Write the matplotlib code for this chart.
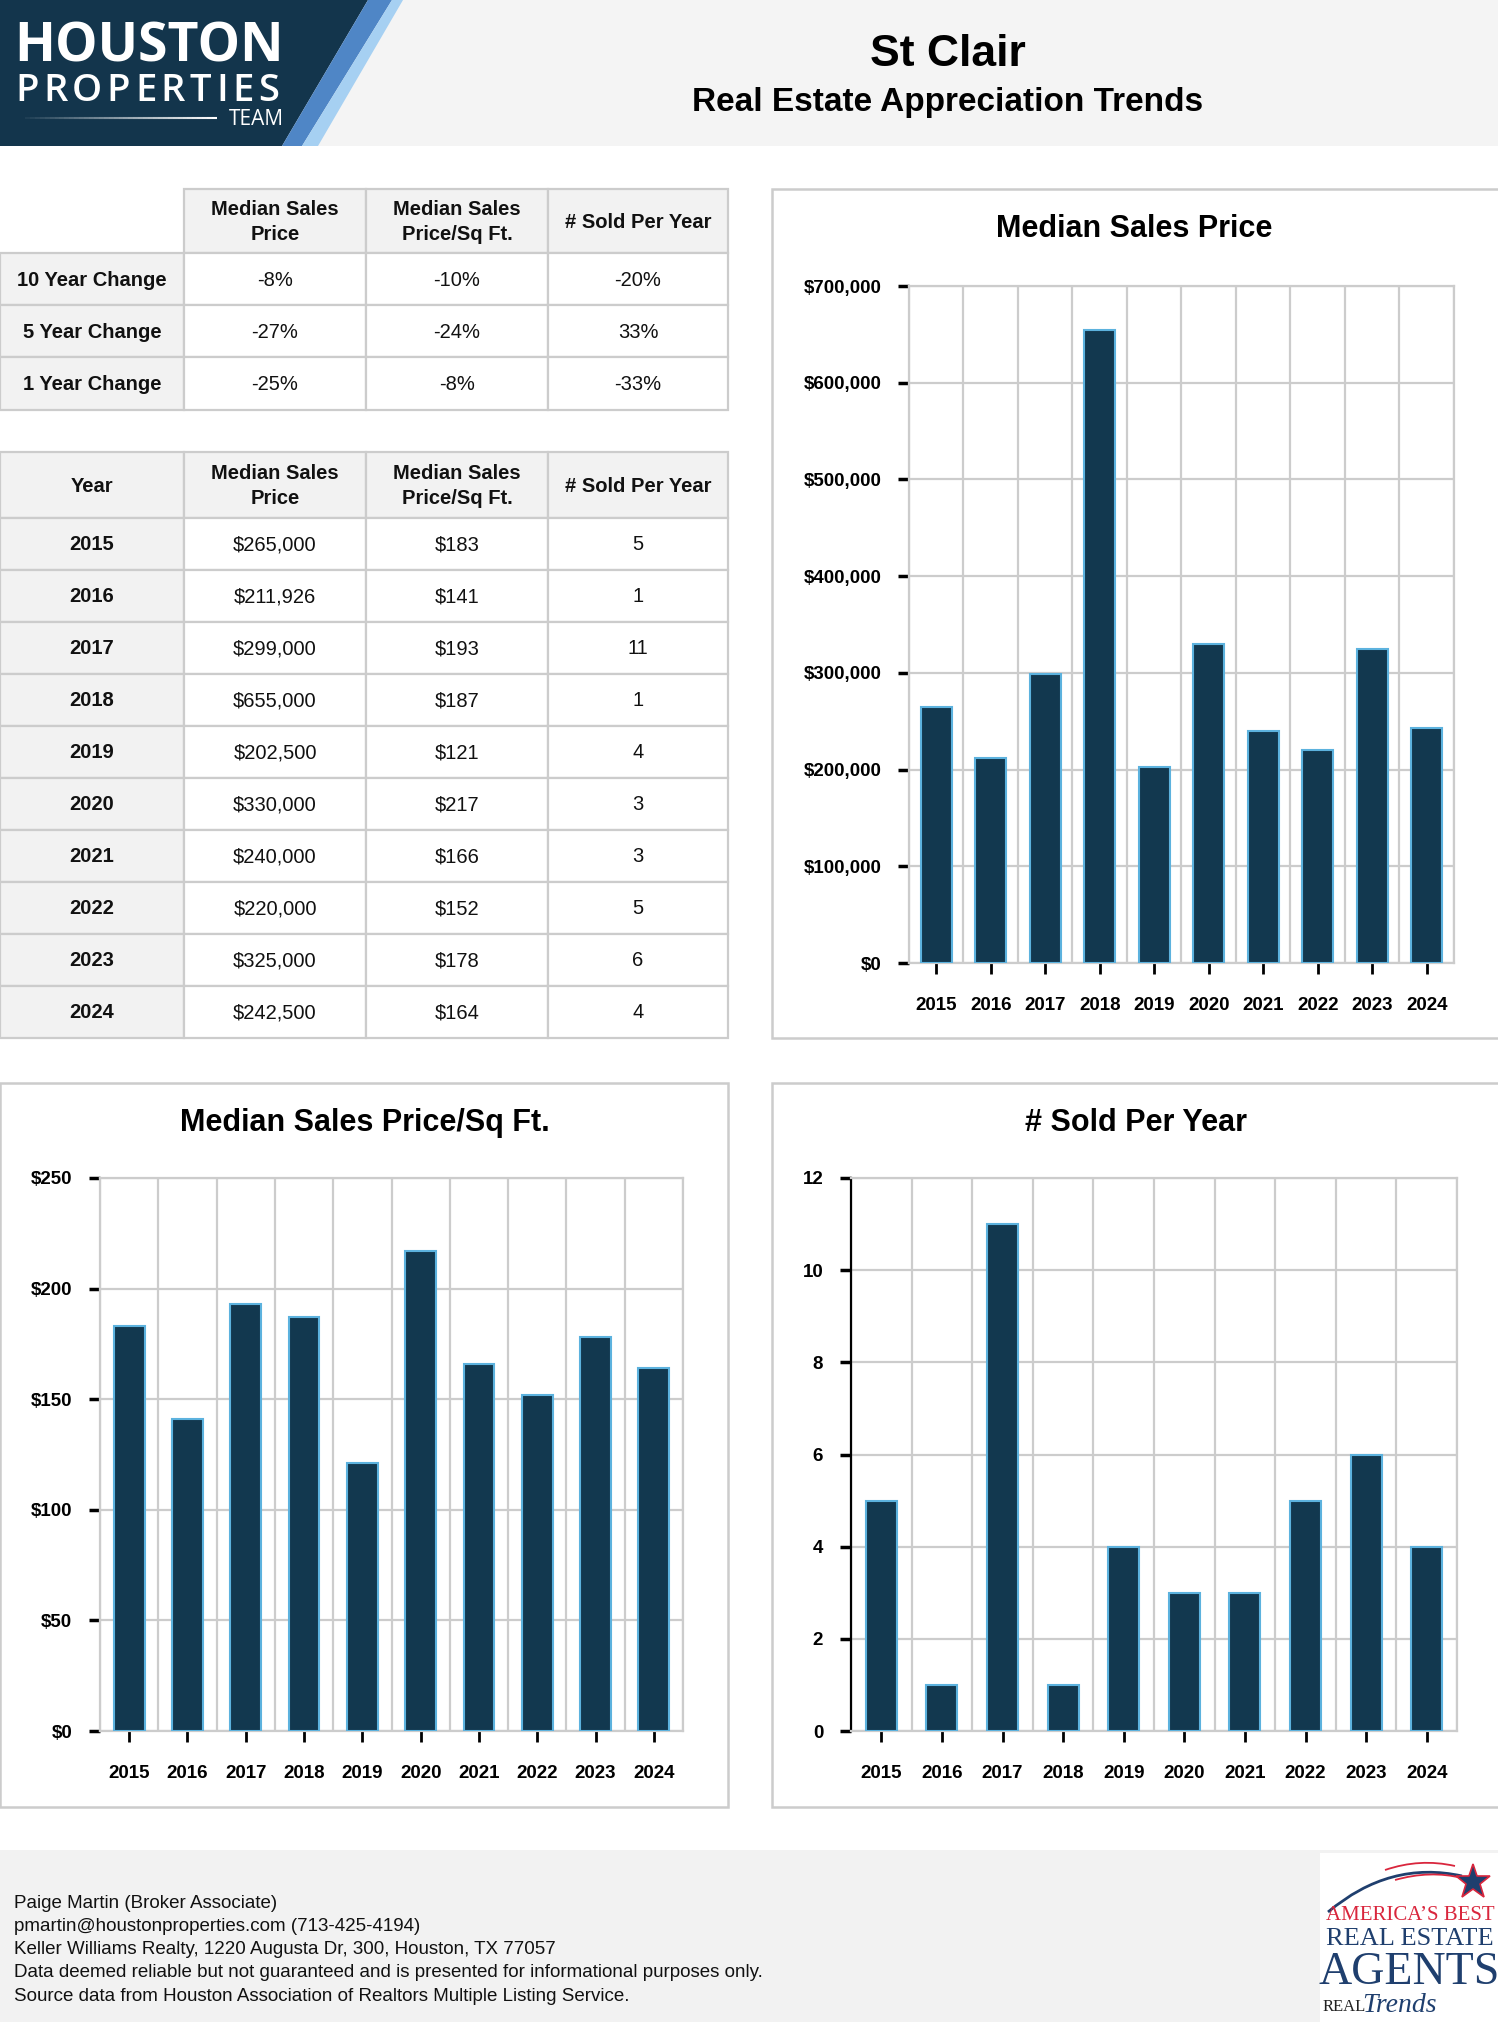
import numpy as np
import matplotlib
matplotlib.use('Agg')
import matplotlib.pyplot as plt
from matplotlib.patches import Rectangle, Polygon, PathPatch
from matplotlib.path import Path
from matplotlib.collections import LineCollection
from matplotlib.ticker import FuncFormatter, MultipleLocator

# data
years = ['2015', '2016', '2017', '2018', '2019', '2020', '2021', '2022', '2023', '2024']
median_price = [265000, 211926, 299000, 655000, 202500, 330000, 240000, 220000, 325000, 242500]
price_sqft = [183, 141, 193, 187, 121, 217, 166, 152, 178, 164]
sold_per_year = [5, 1, 11, 1, 4, 3, 3, 5, 6, 4]

change_rows = ['10 Year Change', '5 Year Change', '1 Year Change']
change_price = ['-8%', '-27%', '-25%']
change_sqft = ['-10%', '-24%', '-8%']
change_sold = ['-20%', '33%', '-33%']

col_headers = ['Median Sales\nPrice', 'Median Sales\nPrice/Sq Ft.', '# Sold Per Year']

footer_lines = [
    'Paige Martin (Broker Associate)',
    'pmartin@houstonproperties.com (713-425-4194)',
    'Keller Williams Realty, 1220 Augusta Dr, 300, Houston, TX 77057',
    'Data deemed reliable but not guaranteed and is presented for informational purposes only.',
    'Source data from Houston Association of Realtors Multiple Listing Service.',
]

W, H = 1498, 2022
NAVY = '#12384f'
EDGE = '#5cb2de'
GRID = '#cccccc'
CELL = '#f2f2f2'
SANS = ['Liberation Sans', 'DejaVu Sans']
SERIF = ['Liberation Serif', 'DejaVu Serif']

plt.rcParams['font.family'] = SANS

fig = plt.figure(figsize=(W / 100, H / 100), dpi=100)
fig.patch.set_facecolor('white')

bg = fig.add_axes([0, 0, 1, 1])
bg.set_xlim(0, W)
bg.set_ylim(H, 0)
bg.axis('off')


def px_axes(x0, y0, x1, y1):
    return fig.add_axes([x0 / W, 1 - y1 / H, (x1 - x0) / W, (y1 - y0) / H])


# header band + logo
bg.add_patch(Rectangle((0, 0), W, 146, color='#f4f4f4', lw=0))
bg.add_patch(Polygon([(0, 0), (368, 0), (282, 146), (0, 146)], color='#13354c', lw=0))
bg.add_patch(Polygon([(368, 0), (392, 0), (302, 146), (282, 146)], color='#4f86c6', lw=0))
bg.add_patch(Polygon([(392, 0), (403, 0), (318, 146), (302, 146)], color='#a6d0f2', lw=0))

bg.text(14, 62, 'HOUSTON', color='white', fontsize=38.5, fontweight='bold',
        family=['Open Sans', 'DejaVu Sans'], va='baseline', ha='left')

# letter spaced PROPERTIES
renderer = fig.canvas.get_renderer()
cx = 15
for ch in 'PROPERTIES':
    t = bg.text(cx, 101, ch, color='white', fontsize=27.5, fontweight='semibold',
                family=['Open Sans', 'DejaVu Sans'], va='baseline', ha='left')
    cx += t.get_window_extent(renderer).width + 4.6

bg.text(284, 125, 'TEAM', color='white', fontsize=15, family=['Open Sans', 'DejaVu Sans'],
        va='baseline', ha='right')
xs = np.linspace(25, 217, 40)
segs = [[(xs[i], 118), (xs[i + 1], 118)] for i in range(len(xs) - 1)]
cols = [(1, 1, 1, a) for a in np.linspace(0.05, 1, len(segs))]
bg.add_collection(LineCollection(segs, colors=cols, linewidths=1.5))

bg.text(948, 54, 'St Clair', fontsize=32, fontweight='bold', ha='center', va='center')
bg.text(948, 103, 'Real Estate Appreciation Trends', fontsize=24, fontweight='bold',
        ha='center', va='center')


# tables
col_x = [0, 184, 366, 548, 728]


def cell(x0, x1, y0, y1, text, face, bold=False, border=True):
    bg.add_patch(Rectangle((x0, y0), x1 - x0, y1 - y0, facecolor=face,
                           edgecolor=GRID if border else 'none', lw=1.6))
    if text:
        bg.text((x0 + x1) / 2, (y0 + y1) / 2 + 1, text, fontsize=14.5, ha='center', va='center',
                fontweight='bold' if bold else 'normal', color='#111111', linespacing=1.4)


t1_y = [189, 253, 305, 357, 410]
cell(col_x[0], col_x[1], t1_y[0], t1_y[1], '', 'white', border=False)
for j, h in enumerate(col_headers):
    cell(col_x[j + 1], col_x[j + 2], t1_y[0], t1_y[1], h, CELL, bold=True)
for i, name in enumerate(change_rows):
    y0, y1 = t1_y[i + 1], t1_y[i + 2]
    cell(col_x[0], col_x[1], y0, y1, name, CELL, bold=True)
    for j, v in enumerate([change_price[i], change_sqft[i], change_sold[i]]):
        cell(col_x[j + 1], col_x[j + 2], y0, y1, v, 'white')

t2_y = [452, 518] + [518 + 52 * (k + 1) for k in range(len(years))]
cell(col_x[0], col_x[1], t2_y[0], t2_y[1], 'Year', CELL, bold=True)
for j, h in enumerate(col_headers):
    cell(col_x[j + 1], col_x[j + 2], t2_y[0], t2_y[1], h, CELL, bold=True)
for i, yr in enumerate(years):
    y0, y1 = t2_y[i + 1], t2_y[i + 2]
    cell(col_x[0], col_x[1], y0, y1, yr, CELL, bold=True)
    vals = ['${:,}'.format(median_price[i]), '${}'.format(price_sqft[i]), str(sold_per_year[i])]
    for j, v in enumerate(vals):
        cell(col_x[j + 1], col_x[j + 2], y0, y1, v, 'white')

# chart panels
for (x0, y0, x1, y1) in [(772, 189, 1510, 1038), (0, 1083, 728, 1807), (772, 1083, 1510, 1807)]:
    bg.add_patch(Rectangle((x0, y0), x1 - x0, y1 - y0, facecolor='white', edgecolor=GRID, lw=1.8))

bg.text(1134, 229, 'Median Sales Price', fontsize=22, fontweight='bold', ha='center', va='center')
bg.text(365, 1123, 'Median Sales Price/Sq Ft.', fontsize=22, fontweight='bold', ha='center', va='center')
bg.text(1136, 1123, '# Sold Per Year', fontsize=22, fontweight='bold', ha='center', va='center')


def bar_chart(ax, values, ymax, step, fmt, width, left_color=GRID):
    x = np.arange(len(years))
    ax.bar(x, values, width=width, color=NAVY, edgecolor=EDGE, linewidth=1.5, zorder=3)
    ax.set_xlim(-0.5, len(years) - 0.5)
    ax.set_ylim(0, ymax)
    ax.yaxis.set_major_locator(MultipleLocator(step))
    ax.yaxis.set_major_formatter(FuncFormatter(fmt))
    ax.set_xticks(x)
    ax.set_xticklabels(years)
    ax.set_xticks(np.arange(len(years) + 1) - 0.5, minor=True)
    ax.set_axisbelow(True)
    ax.grid(which='minor', axis='x', color=GRID, lw=1.6)
    ax.grid(which='major', axis='y', color=GRID, lw=1.6)
    ax.grid(which='major', axis='x', visible=False)
    ax.tick_params(axis='x', which='minor', length=0)
    ax.tick_params(axis='x', which='major', length=8, width=2, color='black', pad=16.5, labelsize=13.5)
    ax.tick_params(axis='y', which='major', length=8, width=2.5, color='black', pad=12, labelsize=13.5)
    for lab in ax.get_xticklabels() + ax.get_yticklabels():
        lab.set_fontweight('bold')
    for lab in ax.get_yticklabels():
        lab.set_va('center_baseline')
    for name, sp in ax.spines.items():
        sp.set_color(GRID)
        sp.set_linewidth(1.6)
    ax.spines['left'].set_color(left_color)
    ax.set_facecolor('white')


ax1 = px_axes(909, 286, 1454, 963)
bar_chart(ax1, median_price, 700000, 100000, lambda v, p: '${:,.0f}'.format(v), 0.57)

ax2 = px_axes(100, 1178, 683, 1731)
bar_chart(ax2, price_sqft, 250, 50, lambda v, p: '${:.0f}'.format(v), 0.53)

ax3 = px_axes(851, 1178, 1457, 1731)
bar_chart(ax3, sold_per_year, 12, 2, lambda v, p: '{:.0f}'.format(v), 0.51, left_color='black')

# footer
bg.add_patch(Rectangle((0, 1850), W, H - 1850, color='#f2f2f2', lw=0))
for k, line in enumerate(footer_lines):
    bg.text(14, 1903 + 23.3 * k, line, fontsize=13.5, ha='left', va='center', color='#111111')

# footer logo
bg.add_patch(Rectangle((1320, 1853), W - 1320, H - 1853, color='white', lw=0))
arc = Path([(1328, 1912), (1390, 1860), (1462, 1876)], [Path.MOVETO, Path.CURVE3, Path.CURVE3])
bg.add_patch(PathPatch(arc, fill=False, edgecolor='#1f3f6e', lw=2))
arc2 = Path([(1385, 1870), (1420, 1858), (1455, 1866)], [Path.MOVETO, Path.CURVE3, Path.CURVE3])
bg.add_patch(PathPatch(arc2, fill=False, edgecolor='#d9263d', lw=1.3))
arc3 = Path([(1395, 1880), (1430, 1870), (1462, 1878)], [Path.MOVETO, Path.CURVE3, Path.CURVE3])
bg.add_patch(PathPatch(arc3, fill=False, edgecolor='#d9263d', lw=1.3))
bg.plot([1473], [1882], marker='*', markersize=26, mfc='#1f3f6e', mec='#d9263d', mew=1.2)
bg.text(1410, 1916, 'AMERICA’S BEST', fontsize=15, color='#d9263d', family=SERIF,
        ha='center', va='center')
bg.text(1410, 1939, 'REAL ESTATE', fontsize=19, color='#1f3f6e', family=SERIF,
        ha='center', va='center')
bg.text(1409, 1973, 'AGENTS', fontsize=33, color='#1f3f6e', family=SERIF,
        ha='center', va='center')
bg.text(1323, 2007, 'REAL', fontsize=12, color='#222222', family=SERIF, ha='left', va='center')
bg.text(1362, 2005, 'Trends', fontsize=20, color='#1f3f6e', family=SERIF, style='italic',
        ha='left', va='center')

fig.savefig('out.png', dpi=100, facecolor='white')
